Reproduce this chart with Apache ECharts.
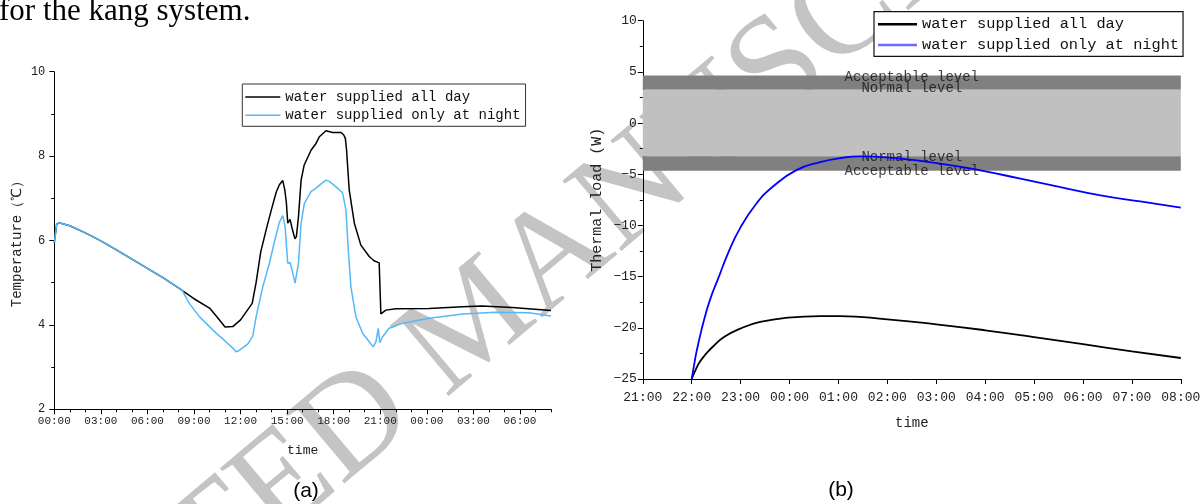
<!DOCTYPE html>
<html>
<head>
<meta charset="utf-8">
<script src="https://cdn.jsdelivr.net/npm/echarts@6/dist/echarts.min.js"></script>
<style>
html,body{margin:0;padding:0;background:#fff;}
#chart{width:1204px;height:504px;}
</style>
</head>
<body>
<div id="chart"></div>
<script>
// ---------- shared ----------
const seriesNames = ['water supplied all day', 'water supplied only at night'];

// ---------- panel (a): temperature, hours since 00:00 ----------
const aAllHours = [0, 0.15, 0.3, 1, 2, 3, 4, 5, 6, 7, 8, 8.25, 9, 10, 10.5, 11, 11.5, 12, 12.5, 12.75, 13.0, 13.3, 13.7, 14.0, 14.3, 14.5, 14.6, 14.72, 14.85, 14.95, 15.04, 15.19, 15.25, 15.32, 15.5, 15.6, 15.73, 15.9, 16.1, 16.54, 16.86, 17.08, 17.5, 17.93, 18.47, 18.65, 18.75, 18.83, 19.0, 19.33, 19.75, 20.29, 20.6, 20.93, 21.04, 21.36, 22.0, 24.15, 26.3, 27.55, 29.5, 32];
const aAllTemp  = [5.95, 6.38, 6.42, 6.35, 6.18, 5.99, 5.78, 5.56, 5.34, 5.12, 4.88, 4.81, 4.62, 4.40, 4.18, 3.95, 3.96, 4.12, 4.38, 4.51, 5.0, 5.73, 6.33, 6.75, 7.15, 7.32, 7.33, 7.42, 7.2, 6.9, 6.41, 6.50, 6.48, 6.29, 6.04, 6.1, 6.56, 7.43, 7.79, 8.14, 8.30, 8.46, 8.60, 8.56, 8.56, 8.50, 8.42, 8.14, 7.20, 6.41, 5.89, 5.62, 5.52, 5.47, 4.26, 4.35, 4.38, 4.39, 4.43, 4.45, 4.41, 4.34];
const aNightHours = [0, 0.15, 0.3, 1, 2, 3, 4, 5, 6, 7, 8, 8.25, 8.7, 9.36, 10.44, 11.0, 11.5, 11.72, 11.93, 12.47, 12.79, 13.0, 13.43, 13.86, 14.2, 14.5, 14.72, 14.87, 15.04, 15.19, 15.32, 15.51, 15.73, 15.9, 16.11, 16.54, 16.86, 17.29, 17.5, 17.72, 18.15, 18.57, 18.79, 18.94, 19.11, 19.43, 19.86, 20.29, 20.55, 20.72, 20.87, 20.97, 21.15, 21.57, 22.43, 24.15, 26.3, 28.43, 30.57, 32];
const aNightTemp  = [5.95, 6.38, 6.42, 6.35, 6.18, 5.99, 5.78, 5.56, 5.34, 5.12, 4.88, 4.81, 4.51, 4.19, 3.80, 3.62, 3.45, 3.36, 3.40, 3.55, 3.74, 4.19, 4.90, 5.46, 6.0, 6.43, 6.59, 6.33, 5.46, 5.48, 5.30, 4.99, 5.46, 6.41, 6.88, 7.16, 7.24, 7.37, 7.43, 7.40, 7.27, 7.13, 6.72, 5.77, 4.90, 4.19, 3.80, 3.60, 3.48, 3.6, 3.92, 3.58, 3.72, 3.92, 4.04, 4.16, 4.26, 4.30, 4.29, 4.21];

// ---------- panel (b): thermal load, hours (21 = 21:00, 32 = 08:00 next day) ----------
const bAllHours = [22.0, 22.08, 22.17, 22.3, 22.42, 22.66, 22.99, 23.4, 23.97, 24.63, 25.03, 26, 27, 28, 29, 30, 31, 32];
const bAllLoad  = [-25, -24.1, -23.3, -22.5, -21.9, -20.9, -20.08, -19.43, -19.0, -18.85, -18.85, -19.17, -19.66, -20.24, -20.9, -21.6, -22.3, -22.95];
const bNightHours = [22.0, 22.05, 22.1, 22.2, 22.3, 22.4, 22.54, 22.74, 23.0, 23.32, 23.65, 24.13, 24.63, 25.0, 25.44, 26.26, 27.08, 27.9, 28.72, 29.54, 30.36, 31.17, 32];
const bNightLoad  = [-25, -23.6, -22.3, -20.2, -18.4, -16.9, -15.2, -12.75, -10.16, -7.88, -6.25, -4.62, -3.81, -3.45, -3.25, -3.48, -3.96, -4.62, -5.43, -6.25, -7.06, -7.65, -8.26];

const bHourRange = [21, 32];
const bandAcceptable = [4.65, -4.65];
const bandNormal = [3.25, -3.25];
const bandLabelNames = ['Acceptable level', 'Normal level', 'Normal level', 'Acceptable level'];
const bandLabelLoad = [4.43, 3.36, -3.32, -4.72];
const bandLabelHour = 26.5;

// ---------- helpers ----------
const zip = (xs, ys) => xs.map((x, i) => [x, ys[i]]);
const hhmm = v => String(((Math.round(v) % 24) + 24) % 24).padStart(2, '0') + ':00';
const mono = '"Liberation Mono", "DejaVu Sans Mono", monospace';
const axisColor = '#000';
const labelColor = '#222';

const chart = echarts.init(document.getElementById('chart'), null, {renderer: 'canvas'});

const option = {
  animation: false,
  backgroundColor: '#fff',
  grid: [
    {left: 54.3, top: 71.7, width: 496.7, height: 337.6, containLabel: false},
    {left: 642.8, top: 20.7, width: 538, height: 358.3, containLabel: false}
  ],
  xAxis: [
    {
      gridIndex: 0, type: 'value', position: 'bottom', min: 0, max: 32, interval: 3,
      axisLine: {onZero: false, lineStyle: {color: axisColor, width: 1}},
      axisTick: {length: 5, lineStyle: {color: axisColor}},
      splitLine: {show: false},
      axisLabel: {formatter: hhmm, fontFamily: mono, fontSize: 11, color: labelColor, margin: 6, showMaxLabel: false},
      name: 'time', nameLocation: 'middle', nameGap: 35,
      nameTextStyle: {fontFamily: mono, fontSize: 13, color: labelColor}
    },
    {
      gridIndex: 0, type: 'value', position: 'bottom', min: 0, max: 32, interval: 1,
      axisLine: {show: false, onZero: false},
      axisTick: {length: 3, lineStyle: {color: axisColor}},
      splitLine: {show: false},
      axisLabel: {show: false}
    },
    {
      gridIndex: 1, type: 'value', position: 'bottom', min: bHourRange[0], max: bHourRange[1], interval: 1,
      axisLine: {onZero: false, lineStyle: {color: axisColor, width: 1}},
      axisTick: {length: 5, lineStyle: {color: axisColor}},
      splitLine: {show: false},
      axisLabel: {formatter: hhmm, fontFamily: mono, fontSize: 13, color: labelColor, margin: 12},
      name: 'time', nameLocation: 'middle', nameGap: 37,
      nameTextStyle: {fontFamily: mono, fontSize: 14, color: labelColor}
    }
  ],
  yAxis: [
    {
      gridIndex: 0, type: 'value', min: 2, max: 10, interval: 2,
      axisLine: {show: true, onZero: false, lineStyle: {color: axisColor, width: 1}},
      axisTick: {show: true, length: 5, lineStyle: {color: axisColor}},
      minorTick: {show: true, splitNumber: 2, length: 3, lineStyle: {color: axisColor}},
      splitLine: {show: false},
      axisLabel: {fontFamily: mono, fontSize: 12, color: labelColor, margin: 9},
      name: 'Temperature（℃）', nameLocation: 'middle', nameGap: 30, nameRotate: 90,
      nameTextStyle: {fontFamily: mono, fontSize: 14, color: labelColor}
    },
    {
      gridIndex: 1, type: 'value', min: -25, max: 10, interval: 5,
      axisLine: {show: true, onZero: false, lineStyle: {color: axisColor, width: 1}},
      axisTick: {show: true, length: 5, lineStyle: {color: axisColor}},
      minorTick: {show: true, splitNumber: 2, length: 3, lineStyle: {color: axisColor}},
      splitLine: {show: false},
      axisLabel: {fontFamily: mono, fontSize: 13, color: labelColor, margin: 6,
        formatter: v => String(v).replace('-', '\u2212')},
      name: 'Thermal load (W)', nameLocation: 'middle', nameGap: 38, nameRotate: 90,
      nameTextStyle: {fontFamily: mono, fontSize: 15, color: labelColor}
    }
  ],
  legend: [
    {
      orient: 'vertical', left: 242.3, top: 84,
      padding: [6, 5, 4, 3], itemWidth: 35, itemHeight: 1.5, itemGap: 4.3,
      icon: 'rect',
      borderColor: '#333', borderWidth: 1, backgroundColor: '#fff',
      selectedMode: false,
      textStyle: {fontFamily: mono, fontSize: 14, color: '#111'},
      data: seriesNames
    },
    {
      orient: 'vertical', left: 874, top: 11.7,
      padding: [5, 4, 4, 4], itemWidth: 39, itemHeight: 2.5, itemGap: 5.7,
      icon: 'rect',
      borderColor: '#111', borderWidth: 1.2, backgroundColor: '#fff',
      selectedMode: false,
      textStyle: {fontFamily: mono, fontSize: 15.3, color: '#111'},
      data: [
        {name: seriesNames[0], itemStyle: {color: '#000'}},
        {name: seriesNames[1], itemStyle: {color: '#6b6bff'}}
      ]
    }
  ],
  graphic: [
    {
      type: 'text', z: -10, x: 477, y: 324, rotation: 40 * Math.PI / 180,
      style: {text: 'ACCEPTED MANUSCRIPT', fontFamily: '"Liberation Serif", serif', fontSize: 140,
        fill: '#c4c4c4', align: 'center', verticalAlign: 'middle'}
    },
    {
      type: 'text', x: -1, y: 11.5,
      style: {text: 'for the kang system.', fontFamily: '"Liberation Serif", serif', fontSize: 31,
        fill: '#000', align: 'left', verticalAlign: 'middle'}
    },
    {
      type: 'text', x: 306, y: 491,
      style: {text: '(a)', fontFamily: '"Liberation Sans", sans-serif', fontSize: 21,
        fill: '#000', align: 'center', verticalAlign: 'middle'}
    },
    {
      type: 'text', x: 841, y: 490,
      style: {text: '(b)', fontFamily: '"Liberation Sans", sans-serif', fontSize: 21,
        fill: '#000', align: 'center', verticalAlign: 'middle'}
    }
  ],
  series: [
    {
      name: seriesNames[0], type: 'line', xAxisIndex: 0, yAxisIndex: 0,
      data: zip(aAllHours, aAllTemp), symbol: 'none', smooth: false,
      lineStyle: {color: '#000', width: 1.5}, itemStyle: {color: '#000'}
    },
    {
      name: seriesNames[1], type: 'line', xAxisIndex: 0, yAxisIndex: 0,
      data: zip(aNightHours, aNightTemp), symbol: 'none', smooth: false,
      lineStyle: {color: '#55b9f7', width: 1.5}, itemStyle: {color: '#55b9f7'}
    },
    {
      name: 'bands', type: 'scatter', xAxisIndex: 2, yAxisIndex: 1,
      symbolSize: 1, itemStyle: {color: 'rgba(0,0,0,0)'},
      data: bandLabelNames.map((n, i) => ({name: n, value: [bandLabelHour, bandLabelLoad[i]]})),
      label: {show: true, position: 'inside', formatter: '{b}', fontFamily: mono, fontSize: 14, color: '#111'},
      silent: true,
      markArea: {
        silent: true,
        data: [
          [{xAxis: bHourRange[0], yAxis: bandNormal[0], itemStyle: {color: '#808080'}}, {xAxis: bHourRange[1], yAxis: bandAcceptable[0]}],
          [{xAxis: bHourRange[0], yAxis: bandNormal[1], itemStyle: {color: '#c0c0c0'}}, {xAxis: bHourRange[1], yAxis: bandNormal[0]}],
          [{xAxis: bHourRange[0], yAxis: bandAcceptable[1], itemStyle: {color: '#808080'}}, {xAxis: bHourRange[1], yAxis: bandNormal[1]}]
        ]
      }
    },
    {
      name: seriesNames[0], type: 'line', xAxisIndex: 2, yAxisIndex: 1,
      data: zip(bAllHours, bAllLoad), symbol: 'none', smooth: true,
      lineStyle: {color: '#000', width: 1.8}, itemStyle: {color: '#000'}
    },
    {
      name: seriesNames[1], type: 'line', xAxisIndex: 2, yAxisIndex: 1,
      data: zip(bNightHours, bNightLoad), symbol: 'none', smooth: true,
      lineStyle: {color: '#0000ff', width: 1.8}, itemStyle: {color: '#0000ff'}
    }
  ]
};
chart.setOption(option);
</script>
</body>
</html>
